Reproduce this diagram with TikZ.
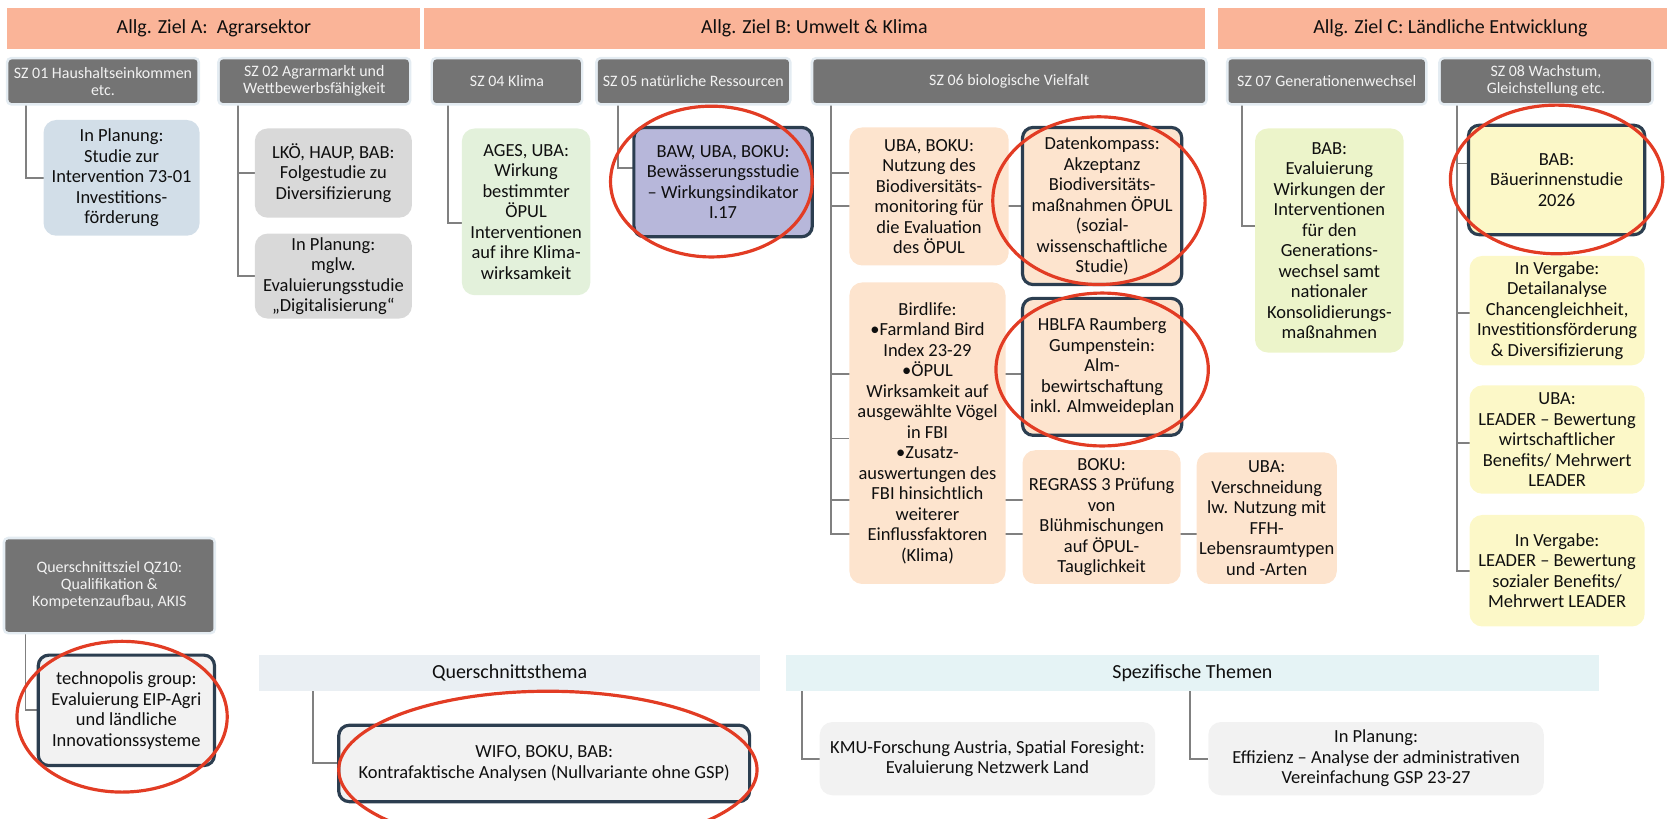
\documentclass[tikz,border=0pt]{standalone}
\usepackage{fontspec}
\setmainfont{Carlito}
\usetikzlibrary{backgrounds}
\definecolor{salmon}{RGB}{250,180,152}
\definecolor{hdr}{RGB}{116,116,116}
\definecolor{halo}{RGB}{228,236,242}
\definecolor{hdrtxt}{RGB}{242,242,242}
\definecolor{blueg}{RGB}{210,222,232}
\definecolor{lgray}{RGB}{217,217,217}
\definecolor{lgreen}{RGB}{227,241,219}
\definecolor{lav}{RGB}{183,183,218}
\definecolor{peach}{RGB}{253,228,206}
\definecolor{lime}{RGB}{236,244,202}
\definecolor{lyel}{RGB}{252,248,200}
\definecolor{vlgray}{RGB}{242,242,242}
\definecolor{qband}{RGB}{234,239,243}
\definecolor{sband}{RGB}{229,243,245}
\definecolor{bord}{RGB}{44,62,80}
\definecolor{conncol}{RGB}{128,128,128}
\definecolor{redmark}{RGB}{226,60,36}
\definecolor{txt}{RGB}{15,15,15}
\begin{document}
\begin{tikzpicture}[x=1pt,y=-1pt,
  every node/.style={inner sep=0pt,outer sep=0pt,align=center,text=txt},
  sz/.style 2 args={minimum width=#1pt,minimum height=#2pt},
  banner/.style={fill=salmon,font=\fontsize{18.8}{22}\selectfont},
  hdrbox/.style={fill=hdr,rounded corners=3pt,preaction={draw=halo,line width=5pt,rounded corners=3pt},text=hdrtxt,font=\fontsize{15}{16}\selectfont},
  card/.style={rounded corners=12pt,font=\fontsize{17.4}{19.3}\selectfont},
  framed/.style={card,draw=bord,line width=3pt,rounded corners=10pt},
  band/.style={font=\fontsize{18.8}{22}\selectfont},
  conn/.style={draw=conncol,line width=1.8pt},
  redring/.style={draw=redmark,line width=3pt}]
\useasboundingbox (0,0) rectangle (1570,771.3);
% banners
\node[banner,sz={389}{38}] (bA) at (201.5,27) {Allg. Ziel A:\ \ Agrarsektor};
\node[banner,sz={736}{38}] (bB) at (767,27) {Allg. Ziel B: Umwelt \& Klima};
\node[banner,sz={438}{38}] (bC) at (1366,27) {Allg. Ziel C: Ländliche Entwicklung};
% headers
\node[hdrbox,sz={178}{41}] (h01) at (97,76.5) {SZ 01 Haushaltseinkommen\\etc.};
\node[hdrbox,sz={178}{41}] (h02) at (296,76.5) {SZ 02 Agrarmarkt und\\Wettbewerbsfähigkeit};
\node[hdrbox,sz={139}{41}] (h04) at (477.5,76.5) {SZ 04 Klima};
\node[hdrbox,sz={180}{41}] (h05) at (653,76.5) {SZ 05 natürliche Ressourcen};
\node[hdrbox,sz={369}{41}] (h06) at (950.5,76.5) {SZ 06 biologische Vielfalt};
\node[hdrbox,sz={185}{41}] (h07) at (1249.5,76.5) {SZ 07 Generationenwechsel};
\node[hdrbox,sz={198}{41}] (h08) at (1456,76.5) {SZ 08 Wachstum,\\Gleichstellung etc.};
% children
\node[card,fill=blueg,sz={147}{109}] (c01) at (114.5,167.5) {In Planung:\\Studie zur\\Intervention 73-01\\Investitions-\\förderung};
\node[card,fill=lgray,sz={148}{84}] (c02a) at (314,163) {LKÖ, HAUP, BAB:\\Folgestudie zu\\Diversifizierung};
\node[card,fill=lgray,sz={148}{80}] (c02b) at (314,260) {In Planung:\\mglw.\\Evaluierungsstudie\\„Digitalisierung“};
\node[card,fill=lgreen,sz={121}{157}] (c04) at (495.5,199.5) {AGES, UBA:\\Wirkung\\bestimmter\\ÖPUL\\Interventionen\\auf ihre Klima-\\wirksamkeit};
\node[framed,fill=lav,sz={168}{103}] (c05) at (681,171.5) {BAW, UBA, BOKU:\\Bewässerungsstudie\\– Wirkungsindikator\\I.17};
\node[card,fill=peach,sz={150}{130}] (c06a) at (875,185) {UBA, BOKU:\\Nutzung des\\Biodiversitäts-\\monitoring für\\die Evaluation\\des ÖPUL};
\node[framed,fill=peach,sz={150}{148}] (c06b) at (1038,194) {Datenkompass:\\Akzeptanz\\Biodiversitäts-\\maßnahmen ÖPUL\\(sozial-\\wissenschaftliche\\Studie)};
\node[card,fill=peach,sz={147}{284}] (c06c) at (873.5,408) {Birdlife:\\•Farmland Bird\\Index 23-29\\•ÖPUL\\Wirksamkeit auf\\ausgewählte Vögel\\in FBI\\•Zusatz-\\auswertungen des\\FBI hinsichtlich\\weiterer\\Einflussfaktoren\\(Klima)};
\node[framed,fill=peach,sz={150}{129}] (c06d) at (1038,345.5) {HBLFA Raumberg\\Gumpenstein:\\Alm-\\bewirtschaftung\\inkl. Almweideplan};
\node[card,fill=peach,sz={149}{126}] (c06e) at (1037.5,487) {BOKU:\\REGRASS 3 Prüfung\\von\\Blühmischungen\\auf ÖPUL-\\Tauglichkeit};
\node[card,fill=peach,sz={132}{124}] (c06f) at (1193,488) {UBA:\\Verschneidung\\lw. Nutzung mit\\FFH-\\Lebensraumtypen\\und -Arten};
\node[card,fill=lime,sz={140}{211}] (c07) at (1252,226.5) {BAB:\\Evaluierung\\Wirkungen der\\Interventionen\\für den\\Generations-\\wechsel samt\\nationaler\\Konsolidierungs-\\maßnahmen};
\node[framed,fill=lyel,sz={166}{103}] (c08a) at (1466,169.5) {BAB:\\Bäuerinnenstudie\\2026};
\node[card,fill=lyel,sz={165}{103}] (c08b) at (1466.5,292.5) {In Vergabe:\\Detailanalyse\\Chancengleichheit,\\Investitionsförderung\\\& Diversifizierung};
\node[card,fill=lyel,sz={165}{102}] (c08c) at (1466.5,414) {UBA:\\LEADER – Bewertung\\wirtschaftlicher\\Benefits/ Mehrwert\\LEADER};
\node[card,fill=lyel,sz={165}{105}] (c08d) at (1466.5,537.5) {In Vergabe:\\LEADER – Bewertung\\sozialer Benefits/\\Mehrwert LEADER};
% bottom part
\node[hdrbox,sz={196}{87}] (qz10) at (103,551.5) {Querschnittsziel QZ10:\\Qualifikation \&\\Kompetenzaufbau, AKIS};
\node[framed,fill=vlgray,sz={166}{104}] (techno) at (119,669) {technopolis group:\\Evaluierung EIP-Agri\\und ländliche\\Innovationssysteme};
\node[band,fill=qband,sz={472}{34}] (qthema) at (480,634) {Querschnittsthema};
\node[framed,fill=vlgray,sz={387}{72}] (kontra) at (512.5,719) {WIFO, BOKU, BAB:\\Kontrafaktische Analysen (Nullvariante ohne GSP)};
\node[band,fill=sband,sz={766}{34}] (sthemen) at (1123,634) {Spezifische Themen};
\node[card,fill=vlgray,sz={316}{69}] (kmu) at (930,714.5) {KMU-Forschung Austria, Spatial Foresight:\\Evaluierung Netzwerk Land};
\node[card,fill=vlgray,sz={316}{69}] (effiz) at (1296,714.5) {In Planung:\\Effizienz – Analyse der administrativen\\Vereinfachung GSP 23-27};
% connectors
\begin{scope}[on background layer]
\draw[conn] ([xshift=16.5pt]h01.south west) |- (c01.west);
\draw[conn] ([xshift=17pt]h02.south west) |- (c02a.west);
\draw[conn] ([xshift=17pt]h02.south west) |- (c02b.west);
\draw[conn] ([xshift=14pt]h04.south west) |- ([yshift=-10.5pt]c04.west);
\draw[conn] ([xshift=19pt]h05.south west) |- ([yshift=13.5pt]c05.west);
\draw[conn] ([xshift=17pt]h06.south west) |- ([yshift=22pt]c06a.west);
\draw[conn] ([xshift=17pt]h06.south west) |- (c06b.west);
\draw[conn] ([xshift=17pt]h06.south west) |- ([yshift=-5pt]c06c.west);
\draw[conn] ([xshift=17pt]h06.south west) |- ([yshift=-6.5pt]c06d.west);
\draw[conn] ([xshift=17pt]h06.south west) |- ([yshift=16pt]c06e.west);
\draw[conn] ([xshift=17pt]h06.south west) |- ([yshift=-15pt]c06f.west);
\draw[conn] ([xshift=13pt]h07.south west) |- ([yshift=13.5pt]c07.west);
\draw[conn] ([xshift=15pt]h08.south west) |- ([yshift=15.5pt]c08a.west);
\draw[conn] ([xshift=15pt]h08.south west) |- ([yshift=-2.5pt]c08b.west);
\draw[conn] ([xshift=15pt]h08.south west) |- ([yshift=-3pt]c08c.west);
\draw[conn] ([xshift=15pt]h08.south west) |- (c08d.west);
\draw[conn] ([xshift=19pt]qz10.south west) |- (techno.west);
\draw[conn] ([xshift=51pt]qthema.south west) |- (kontra.west);
\draw[conn] ([xshift=15pt]sthemen.south west) |- (kmu.west);
\draw[conn] ([xshift=381pt]sthemen.south west) |- (effiz.west);
\end{scope}
% red markings
\draw[redring] (670,171) ellipse [x radius=95,y radius=71];
\draw[redring] (1035,189) ellipse [x radius=100,y radius=79];
\draw[redring] (1038,348) ellipse [x radius=100,y radius=72];
\draw[redring] (1466,169) ellipse [x radius=100,y radius=70];
\draw[redring] (115,675) ellipse [x radius=99,y radius=71];
\draw[redring] (516,725) ellipse [x radius=197,y radius=74];
\end{tikzpicture}
\end{document}
